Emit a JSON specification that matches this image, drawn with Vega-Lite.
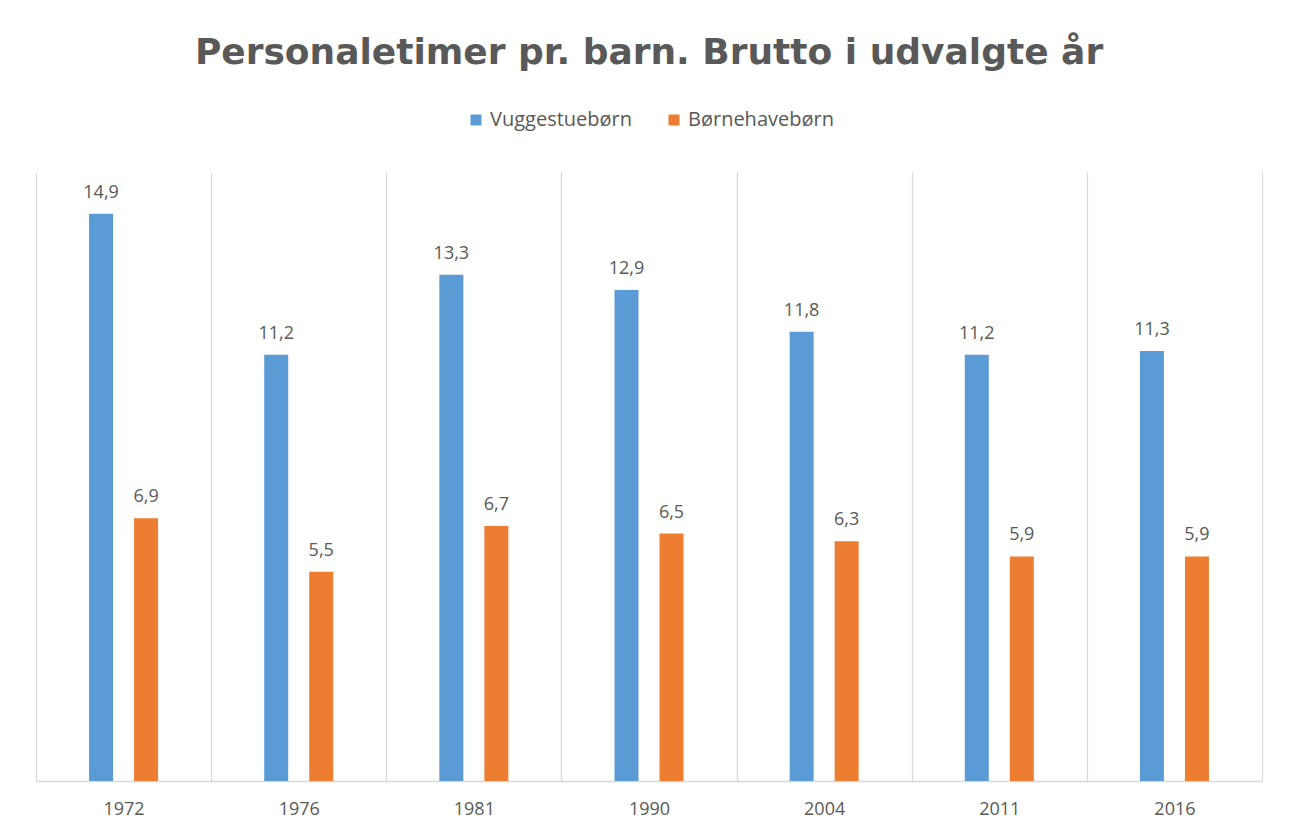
{
  "$schema": "https://vega.github.io/schema/vega-lite/v6.json",
  "autosize": "none",
  "padding": {"left": 36, "top": 172, "right": 30, "bottom": 53},
  "width": 1226,
  "height": 609,
  "background": "white",
  "title": {
    "text": "Personaletimer pr. barn. Brutto i udvalgte år",
    "anchor": "middle",
    "font": "DejaVu Sans",
    "fontSize": 36,
    "fontWeight": "bold",
    "color": "#595959",
    "offset": 38
  },
  "config": {
    "locale": {"number": {"decimal": ",", "thousands": ".", "grouping": [3], "currency": ["", " kr."]}},
    "view": {"stroke": null},
    "font": "Open Sans"
  },
  "data": {
    "values": [
      {"year": "1972", "serie": "Vuggestuebørn", "value": 14.9},
      {"year": "1972", "serie": "Børnehavebørn", "value": 6.9},
      {"year": "1976", "serie": "Vuggestuebørn", "value": 11.2},
      {"year": "1976", "serie": "Børnehavebørn", "value": 5.5},
      {"year": "1981", "serie": "Vuggestuebørn", "value": 13.3},
      {"year": "1981", "serie": "Børnehavebørn", "value": 6.7},
      {"year": "1990", "serie": "Vuggestuebørn", "value": 12.9},
      {"year": "1990", "serie": "Børnehavebørn", "value": 6.5},
      {"year": "2004", "serie": "Vuggestuebørn", "value": 11.8},
      {"year": "2004", "serie": "Børnehavebørn", "value": 6.3},
      {"year": "2011", "serie": "Vuggestuebørn", "value": 11.2},
      {"year": "2011", "serie": "Børnehavebørn", "value": 5.9},
      {"year": "2016", "serie": "Vuggestuebørn", "value": 11.3},
      {"year": "2016", "serie": "Børnehavebørn", "value": 5.9}
    ]
  },
  "encoding": {
    "x": {
      "field": "year",
      "type": "nominal",
      "sort": null,
      "scale": {"paddingInner": 0, "paddingOuter": 0},
      "axis": {
        "title": null,
        "labelAngle": 0,
        "tickBand": "extent",
        "grid": true,
        "gridColor": "#d9d9d9",
        "gridWidth": 1.3,
        "ticks": false,
        "domainColor": "#d9d9d9",
        "domainWidth": 1.3,
        "labelFont": "Open Sans",
        "labelFontSize": 18,
        "labelColor": "#595959",
        "labelPadding": 19
      }
    },
    "xOffset": {
      "field": "serie",
      "type": "nominal",
      "sort": ["Vuggestuebørn", "Børnehavebørn"],
      "scale": {"paddingInner": 0.109, "paddingOuter": 1}
    },
    "y": {
      "field": "value",
      "type": "quantitative",
      "scale": {"domain": [0, 16], "nice": false},
      "axis": null
    }
  },
  "layer": [
    {
      "mark": {"type": "bar", "width": 24},
      "encoding": {
        "color": {
          "field": "serie",
          "type": "nominal",
          "sort": ["Vuggestuebørn", "Børnehavebørn"],
          "scale": {"domain": ["Vuggestuebørn", "Børnehavebørn"], "range": ["#5b9bd5", "#ed7d31"]},
          "legend": {
            "title": null,
            "orient": "none",
            "direction": "horizontal",
            "legendX": 430,
            "legendY": -62,
            "symbolType": "square",
            "symbolSize": 121,
            "symbolStrokeWidth": 0,
            "labelFont": "Open Sans",
            "labelFontSize": 20,
            "labelColor": "#595959",
            "columnPadding": 31,
            "labelOffset": 4
          }
        }
      }
    },
    {
      "mark": {"type": "text", "baseline": "alphabetic", "dy": -16, "font": "Open Sans", "fontSize": 18, "color": "#595959"},
      "encoding": {
        "text": {"field": "value", "type": "quantitative", "format": ".1f"}
      }
    }
  ]
}
